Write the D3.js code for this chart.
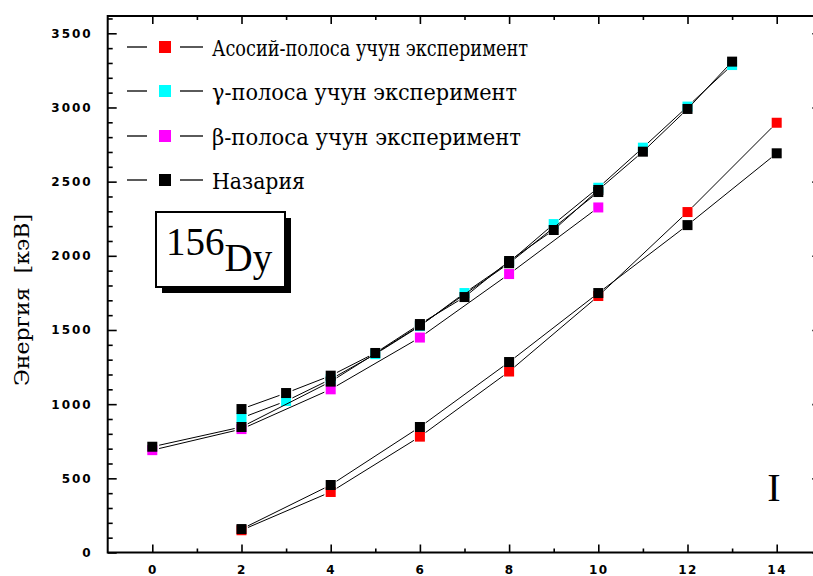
<!DOCTYPE html>
<html><head><meta charset="utf-8">
<script src="https://cdn.jsdelivr.net/npm/d3@7"></script>
<style>
body{margin:0;background:#fff;}
svg{display:block;}
</style></head>
<body><svg id="c" width="813" height="576"></svg>
<script>
// ---- data ----
const groundSpins = [2,4,6,8,10,12,14];
const groundExp   = [150,408,781,1220,1729,2295,2897];
const groundTheory= [158,455,846,1284,1749,2207,2691];

const gammaSpins  = [2,3,4,5,6,7,8,9,10,11,12,13];
const gammaExp    = [907,1021,1168,1337,1526,1749,1956,2214,2459,2729,3006,3286];
const gammaTheory = [967,1075,1192,1345,1540,1722,1965,2174,2444,2702,2990,3309];

const betaSpins   = [0,2,4,6,8,10];
const betaExp     = [690,832,1100,1449,1877,2326];
const betaTheory  = [713,846,1152,1530,1950,2430];

const legendLabels = ["Асосий-полоса учун эксперимент","γ-полоса учун эксперимент","β-полоса учун эксперимент","Назария"];
const legendColors = ["#ff0000","#00ffff","#ff00ff","#000000"];
const xTickLabels = [0,2,4,6,8,10,12,14];
const yTickLabels = [0,500,1000,1500,2000,2500,3000,3500];
const yAxisTitle = "Энергия  [кэВ]";
const nucleusMass = "156", nucleusName = "Dy", panelLabel = "I";

// ---- scales ----
const svg = d3.select("#c");
const x = d3.scaleLinear().domain([-1,15]).range([107.7,821.3]);
const y = d3.scaleLinear().domain([0,3500]).range([552.5,33.3]);
const frameTop = 16;
const serif = "'DejaVu Serif', 'Liberation Serif', serif";

// frame
svg.append("rect").attr("x",x(-1)).attr("y",frameTop).attr("width",x(15)-x(-1)).attr("height",y(0)-frameTop)
  .attr("fill","none").attr("stroke","#000").attr("stroke-width",2);

function noDomain(g){ g.select(".domain").remove(); g.selectAll("line").attr("stroke","#000").attr("stroke-width",1.6); }

const tickFont = "bold 12px 'DejaVu Sans', sans-serif";
// bottom
svg.append("g").attr("transform",`translate(0,${y(0)})`)
  .call(d3.axisBottom(x).tickValues(xTickLabels).tickSize(-8).tickPadding(13).tickFormat(d3.format("d")))
  .call(noDomain).call(g=>g.selectAll("text").style("font",tickFont).attr("fill","#000").attr("letter-spacing","1.5px"));
svg.append("g").attr("transform",`translate(0,${y(0)})`)
  .call(d3.axisBottom(x).tickValues(d3.range(1,15,2)).tickSize(-4).tickFormat(""))
  .call(noDomain);
// top
svg.append("g").attr("transform",`translate(0,${frameTop})`)
  .call(d3.axisTop(x).tickValues(d3.range(0,16,2)).tickSize(-8).tickFormat("")).call(noDomain);
svg.append("g").attr("transform",`translate(0,${frameTop})`)
  .call(d3.axisTop(x).tickValues(d3.range(1,16,2)).tickSize(-4).tickFormat("")).call(noDomain);
// left
svg.append("g").attr("transform",`translate(${x(-1)},0)`)
  .call(d3.axisLeft(y).tickValues(yTickLabels).tickSize(-9).tickPadding(15).tickFormat(d3.format("d")))
  .call(noDomain).call(g=>g.selectAll("text").style("font",tickFont).attr("fill","#000").attr("letter-spacing","2px"));
svg.append("g").attr("transform",`translate(${x(-1)},0)`)
  .call(d3.axisLeft(y).tickValues(d3.range(0,3700,100).filter(v=>v%500)).tickSize(-5).tickFormat(""))
  .call(noDomain);
// right
svg.append("g").attr("transform",`translate(${x(15)},0)`)
  .call(d3.axisRight(y).tickValues(yTickLabels).tickSize(-9).tickFormat("")).call(noDomain);
svg.append("g").attr("transform",`translate(${x(15)},0)`)
  .call(d3.axisRight(y).tickValues(d3.range(0,3700,100).filter(v=>v%500)).tickSize(-5).tickFormat("")).call(noDomain);

// y title
svg.append("text").attr("transform",`translate(29,300) rotate(-90)`)
  .attr("text-anchor","middle").style("font",`21px ${serif}`).attr("fill","#000")
  .attr("textLength",172).attr("lengthAdjust","spacingAndGlyphs")
  .attr("xml:space","preserve").text(yAxisTitle);

// series
function drawSeries(spins, vals, color){
  const pts = spins.map((s,i)=>[x(s), y(vals[i])]);
  const gap = 7;
  const segs = d3.pairs(pts).map(([p,q])=>{
    const dx=q[0]-p[0], dy=q[1]-p[1], L=Math.hypot(dx,dy);
    const ux=dx/L, uy=dy/L;
    return [p[0]+ux*gap, p[1]+uy*gap, q[0]-ux*gap, q[1]-uy*gap];
  });
  const g = svg.append("g");
  g.selectAll("line").data(segs).join("line")
    .attr("x1",d=>d[0]).attr("y1",d=>d[1]).attr("x2",d=>d[2]).attr("y2",d=>d[3])
    .attr("stroke","#000").attr("stroke-width",1);
  g.selectAll("rect").data(pts).join("rect")
    .attr("x",d=>d[0]-5).attr("y",d=>d[1]-5).attr("width",10).attr("height",10).attr("fill",color);
}
drawSeries(groundSpins, groundExp, legendColors[0]);
drawSeries(gammaSpins, gammaExp, legendColors[1]);
drawSeries(betaSpins, betaExp, legendColors[2]);
drawSeries(betaSpins, betaTheory, legendColors[3]);
drawSeries(gammaSpins, gammaTheory, legendColors[3]);
drawSeries(groundSpins, groundTheory, legendColors[3]);

// legend
const legY = [47,91,136,180];
const legW = [316,305,309,93];
const lg = svg.append("g");
legendLabels.forEach((lab,i)=>{
  const cy = legY[i];
  lg.append("line").attr("x1",127).attr("x2",147).attr("y1",cy).attr("y2",cy).attr("stroke","#000").attr("stroke-width",1.3);
  lg.append("line").attr("x1",180).attr("x2",203).attr("y1",cy).attr("y2",cy).attr("stroke","#000").attr("stroke-width",1.3);
  lg.append("rect").attr("x",159).attr("y",cy-6).attr("width",12).attr("height",12).attr("fill",legendColors[i]);
  lg.append("text").attr("x",212).attr("y",cy+9).style("font",`22px ${serif}`).attr("fill","#000")
    .attr("textLength",legW[i]).attr("lengthAdjust","spacingAndGlyphs").text(lab);
});

// nucleus box
svg.append("rect").attr("x",162).attr("y",218).attr("width",129).attr("height",75).attr("fill","#000");
svg.append("rect").attr("x",156).attr("y",212).attr("width",129).attr("height",75).attr("fill","#fff").attr("stroke","#000").attr("stroke-width",2);
const nt = svg.append("text").attr("x",166).attr("y",255).style("font","39px 'Liberation Serif', serif").attr("fill","#000");
nt.append("tspan").text(nucleusMass);
nt.append("tspan").attr("dy",16).text(nucleusName);

// panel label
svg.append("text").attr("x",774).attr("y",501).attr("text-anchor","middle")
  .style("font","40px 'Liberation Serif', serif").attr("fill","#000").text(panelLabel);
</script></body></html>
